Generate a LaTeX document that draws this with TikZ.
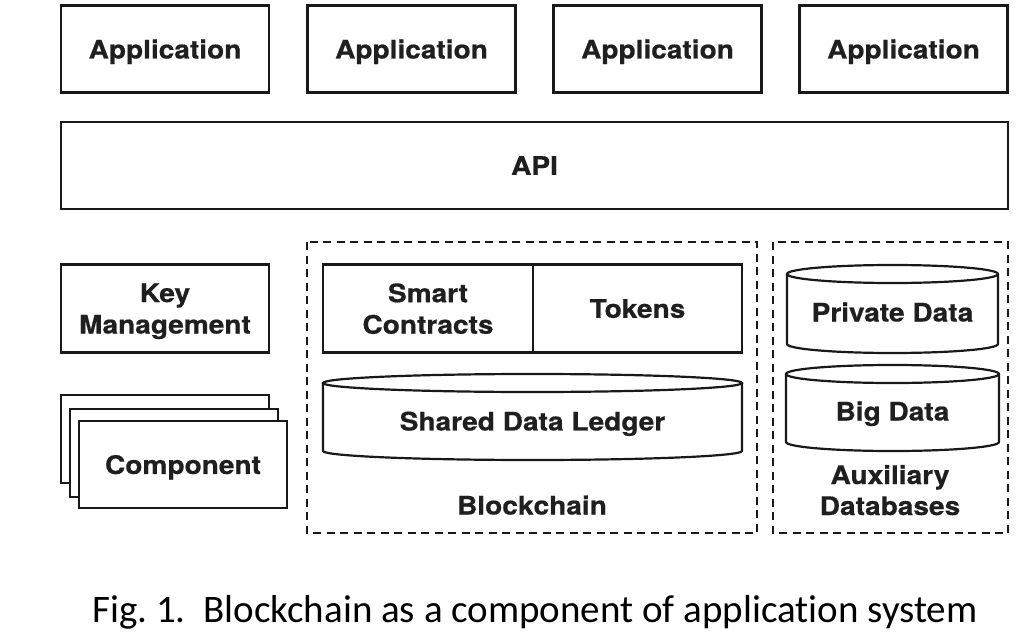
\documentclass[tikz,border=0pt]{standalone}
\usepackage{fontspec}
\setmainfont{TeX Gyre Heros}[FakeStretch=1.10, BoldFeatures={FakeBold=0.6}]
\newfontfamily\capfont{Carlito}[Ligatures=NoCommon]
\usetikzlibrary{positioning}
\tikzset{
  ln/.style={line width=2.2pt, draw=black!90},
  box/.style={ln, rectangle, fill=white, inner sep=0pt, align=center, text depth=0pt,
    text=black!88, font=\fontsize{25.5}{31.5}\selectfont\bfseries},
  lbl/.style={inner sep=0pt, align=center, text depth=0pt, text=black!88,
    font=\fontsize{25.5}{31}\selectfont\bfseries},
  grp/.style={line width=2.2pt, draw=black!90, dash pattern=on 8pt off 5.5pt},
}
\newcommand{\dbcyl}[5]{% x1 x2 ytop ybot ry
  \pgfmathsetmacro{\cxa}{(#1+#2)/2}%
  \pgfmathsetmacro{\rxa}{(#2-#1)/2}%
  \draw[ln] (\cxa,#3+#5) ellipse [x radius=\rxa pt, y radius=#5 pt];
  \draw[ln] (#1,#3+#5) -- (#1,#4-#5) arc[start angle=180, end angle=360, x radius=\rxa pt, y radius=#5 pt] -- (#2,#3+#5);
}
\begin{document}
\begin{tikzpicture}[x=1pt,y=-1pt]
\useasboundingbox (0,0) rectangle (1032,644);
% applications
\node[box, minimum width=208pt, minimum height=87pt] (app1) at (165,49) {Application};
\node[box, minimum width=208pt, minimum height=87pt] (app2) at (411.5,49) {Application};
\node[box, minimum width=208pt, minimum height=87pt] (app3) at (657.5,49) {Application};
\node[box, minimum width=208pt, minimum height=87pt] (app4) at (903.5,49) {Application};
% API
\node[box, minimum width=947pt, minimum height=87pt] (api) at (534.5,165.5) {API};
% key management
\node[box, minimum width=208pt, minimum height=88pt] (key) at (165,308.5) {Key\\Management};
% component stack
\node[box, minimum width=208pt, minimum height=88pt] (comp3) at (165,439) {};
\node[box, minimum width=208pt, minimum height=88pt] (comp2) at (174,453) {};
\node[box, minimum width=208pt, minimum height=87pt] (comp1) at (183,464.5) {Component};
% blockchain group
\draw[grp] (307,242) rectangle (757,533);
\node[box, minimum width=210pt, minimum height=88pt] (smart) at (428,308.5) {Smart\\Contracts};
\node[box, minimum width=209pt, minimum height=88pt] (tokens) at (637.5,308.5) {Tokens};
\dbcyl{323}{742}{374}{460}{9}
\node[lbl] (ledger) at (532.5,421) {Shared Data Ledger};
\node[lbl] (bc) at (532,505) {Blockchain};
% auxiliary group
\draw[grp] (773,242) rectangle (1008,533);
\dbcyl{787}{998}{265}{353}{9}
\node[lbl] (priv) at (892.5,312) {Private Data};
\dbcyl{786}{999}{365}{451}{9}
\node[lbl] (big) at (892.5,411) {Big Data};
\node[lbl] (aux) at (890,490) {Auxiliary\\Databases};
% caption
\node[anchor=base, inner sep=0pt, font=\capfont\fontsize{39}{42}\selectfont] (cap) at (535,622) {Fig.~1.\ \ Blockchain as a component of application system};
\end{tikzpicture}
\end{document}
